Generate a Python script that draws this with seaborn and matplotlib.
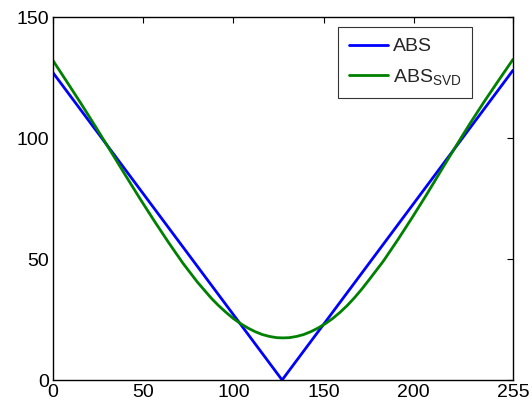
import matplotlib
matplotlib.use("Agg")
import matplotlib.pyplot as plt
import seaborn as sns
import pandas as pd

# Piecewise-linear absolute-value profile
abs_x = [0, 127, 255]
abs_y = [127, 0, 128]

# Its low-rank (SVD) reconstruction
svd_x = [0, 8, 16, 24, 32, 40, 48, 56, 64, 72, 80, 88, 92, 96, 100, 104, 108, 112,
         116, 120, 124, 127.5, 131, 135, 139, 143, 147, 151, 155, 159, 163, 167, 171,
         175, 183, 191, 199, 207, 215, 223, 231, 239, 247, 255]
svd_y = [132.0, 122.9, 113.7, 104.2, 94.5, 84.8, 75.2, 65.9, 56.9, 48.3, 40.5, 33.6,
         30.6, 27.9, 25.4, 23.3, 21.5, 20.0, 18.8, 18.0, 17.5, 17.4, 17.5, 18.0, 18.8,
         20.0, 21.5, 23.3, 25.4, 27.9, 30.7, 33.9, 37.4, 41.2, 49.0, 57.8, 67.0, 76.5,
         86.4, 96.2, 105.8, 115.0, 123.8, 132.5]

x_ticks = [0, 50, 100, 150, 200, 255]
y_ticks = [0, 50, 100, 150]

sns.set_style("white")
plt.rcParams["font.family"] = ["Liberation Sans", "DejaVu Sans"]
plt.rcParams["mathtext.fontset"] = "custom"
plt.rcParams["mathtext.rm"] = "Liberation Sans"
plt.rcParams["mathtext.it"] = "Liberation Sans"

fig = plt.figure(figsize=(5.32, 4.11), dpi=100)
ax = fig.add_axes([0.0996, 0.0754, 0.8647, 0.8832])

df_abs = pd.DataFrame({"x": abs_x, "y": abs_y})
df_svd = pd.DataFrame({"x": svd_x, "y": svd_y})
sns.lineplot(data=df_abs, x="x", y="y", ax=ax, color=(0, 0, 1), lw=2.0,
             sort=False, label="ABS")
sns.lineplot(data=df_svd, x="x", y="y", ax=ax, color=(0, 0.5, 0), lw=2.0,
             sort=False, label=r"ABS$_{\mathregular{SVD}}$")

ax.set_xlim(0, 255)
ax.set_ylim(0, 150)
ax.set_xticks(x_ticks)
ax.set_yticks(y_ticks)
ax.set_xlabel("")
ax.set_ylabel("")
ax.tick_params(direction="in", length=4, width=0.8, top=True, right=True,
               labelsize=14, colors="black", pad=3)
for s in ax.spines.values():
    s.set_visible(True)
    s.set_color("black")
    s.set_linewidth(1.0)

leg = ax.legend(loc="upper right", bbox_to_anchor=(0.911, 0.972), borderaxespad=0,
                fontsize=14, frameon=True, fancybox=False, handlelength=2.0,
                handletextpad=0.25, borderpad=0.55, labelspacing=0.6)
leg.get_frame().set_edgecolor("black")
leg.get_frame().set_linewidth(0.8)

fig.savefig("out.png", dpi=100, facecolor="white")
